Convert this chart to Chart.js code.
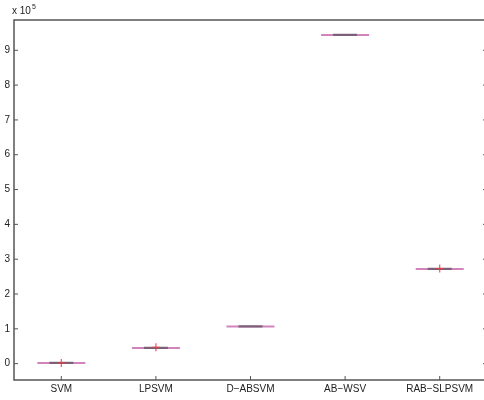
<!DOCTYPE html>
<html>
<head>
<meta charset="utf-8">
<script src="https://cdn.jsdelivr.net/npm/chart.js@4"></script>
<style>
html, body { margin: 0; padding: 0; background: #fff; overflow: hidden; }
#wrap { width: 492px; height: 400px; }
</style>
</head>
<body>
<div id="wrap"><canvas id="boxChart" width="492" height="400"></canvas></div>
<script>
// values in units of 1e5
var categories = ["SVM", "LPSVM", "D\u2212ABSVM", "AB\u2212WSV", "RAB\u2212SLPSVM"];
var medians = [0.02, 0.45, 1.07, 9.44, 2.72];
var outliers = [0.02, 0.47, null, null, 2.73];
var yTicks = [0, 1, 2, 3, 4, 5, 6, 7, 8, 9];

var axisColor = "#555";

// box frame, inward ticks and the "x 10^5" exponent label
var matlabAxes = {
    id: "matlabAxes",
    afterDraw: function (chart) {
        var ctx = chart.ctx;
        var a = chart.chartArea;
        var ys = chart.scales.y, xs = chart.scales.x;
        ctx.save();
        ctx.strokeStyle = axisColor;
        ctx.lineWidth = 1.5;
        ctx.beginPath();
        ctx.moveTo(a.left, a.top);
        ctx.lineTo(a.right, a.top);
        ctx.lineTo(a.right, a.bottom);
        ctx.lineTo(a.left, a.bottom);
        ctx.closePath();
        ctx.stroke();

        ctx.lineWidth = 1;
        ctx.beginPath();
        yTicks.forEach(function (t) {
            var py = ys.getPixelForValue(t);
            ctx.moveTo(a.left, py);
            ctx.lineTo(a.left + 4, py);
            ctx.moveTo(a.right, py);
            ctx.lineTo(a.right - 4, py);
        });
        categories.forEach(function (c, i) {
            var px = xs.getPixelForValue(i);
            ctx.moveTo(px, a.bottom);
            ctx.lineTo(px, a.bottom - 4);
        });
        ctx.stroke();

        ctx.fillStyle = "#222";
        ctx.textBaseline = "alphabetic";
        ctx.font = "10px 'Liberation Sans', Arial, sans-serif";
        ctx.fillText("x 10", a.left - 2, a.top - 6);
        var w = ctx.measureText("x 10").width;
        ctx.font = "7px 'Liberation Sans', Arial, sans-serif";
        ctx.fillText("5", a.left - 2 + w + 1, a.top - 11);
        ctx.restore();
    }
};

var ctx = document.getElementById("boxChart").getContext("2d");
new Chart(ctx, {
    type: "line",
    data: {
        labels: categories,
        datasets: [
            {
                label: "outliers",
                data: outliers,
                showLine: false,
                pointStyle: "cross",
                pointRadius: 4,
                pointBorderWidth: 1.2,
                pointBorderColor: "rgba(235,60,60,0.85)",
                pointBackgroundColor: "rgba(235,60,60,0.85)"
            },
            {
                label: "box",
                data: medians,
                showLine: false,
                pointStyle: "line",
                pointRadius: 12,
                pointBorderWidth: 2.2,
                pointBorderColor: "rgba(110,90,110,0.85)"
            },
            {
                label: "whiskers",
                data: medians,
                showLine: false,
                pointStyle: "line",
                pointRadius: 24,
                pointBorderWidth: 2,
                pointBorderColor: "rgba(200,110,175,0.85)"
            }
        ]
    },
    options: {
        responsive: false,
        animation: false,
        events: [],
        layout: { autoPadding: false, padding: { top: 20, right: 5, left: 0, bottom: 0 } },
        plugins: {
            legend: { display: false },
            tooltip: { enabled: false }
        },
        scales: {
            x: {
                type: "category",
                offset: true,
                grid: { display: false, drawTicks: false },
                border: { display: false },
                ticks: {
                    color: "#222",
                    padding: 3,
                    maxRotation: 0,
                    autoSkip: false,
                    font: { family: "'Liberation Sans', Arial, sans-serif", size: 10 }
                },
                afterFit: function (s) {
                    s.height = 20;
                    s.paddingLeft = 0;
                    s.paddingRight = 0;
                }
            },
            y: {
                min: -0.47,
                max: 9.87,
                grid: { display: false, drawTicks: false },
                border: { display: false },
                afterBuildTicks: function (s) {
                    s.ticks = yTicks.map(function (v) { return { value: v }; });
                },
                ticks: {
                    color: "#222",
                    padding: 4,
                    font: { family: "'Liberation Sans', Arial, sans-serif", size: 10 }
                },
                afterFit: function (s) {
                    s.width = 14;
                    s.paddingTop = 0;
                    s.paddingBottom = 0;
                }
            }
        }
    },
    plugins: [matlabAxes]
});
</script>
</body>
</html>
